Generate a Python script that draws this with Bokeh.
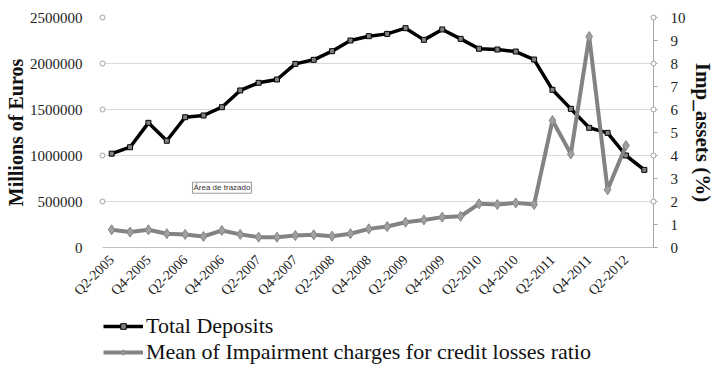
import math
from bokeh.plotting import figure
from bokeh.layouts import column
from bokeh.models import (Range1d, LinearAxis, FixedTicker, Legend, LegendItem,
                          Label, BasicTickFormatter)
from bokeh.embed import file_html
from bokeh.resources import INLINE

quarters = ["Q2-2005", "Q3-2005", "Q4-2005",
            "Q1-2006", "Q2-2006", "Q3-2006", "Q4-2006",
            "Q1-2007", "Q2-2007", "Q3-2007", "Q4-2007",
            "Q1-2008", "Q2-2008", "Q3-2008", "Q4-2008",
            "Q1-2009", "Q2-2009", "Q3-2009", "Q4-2009",
            "Q1-2010", "Q2-2010", "Q3-2010", "Q4-2010",
            "Q1-2011", "Q2-2011", "Q3-2011", "Q4-2011",
            "Q1-2012", "Q2-2012", "Q3-2012"]

total_deposits = [1020000, 1090000, 1355000, 1160000, 1416000, 1435000, 1525000,
                  1707000, 1790000, 1826000, 1996000, 2040000, 2134000, 2250000,
                  2297000, 2322000, 2384000, 2257000, 2370000, 2268000, 2160000,
                  2152000, 2130000, 2043000, 1714000, 1507000, 1301000, 1246000,
                  1000000, 844000]

impairment_ratio = [0.77, 0.67, 0.77, 0.60, 0.57, 0.48, 0.74, 0.57, 0.45, 0.45,
                    0.52, 0.55, 0.49, 0.60, 0.81, 0.91, 1.10, 1.20, 1.32, 1.36,
                    1.90, 1.87, 1.94, 1.87, 5.52, 4.07, 9.17, 2.51, 4.43]

left_ticks = [0, 500000, 1000000, 1500000, 2000000, 2500000]
right_ticks = [0, 1, 2, 3, 4, 5, 6, 7, 8, 9, 10]

series_names = ["Total Deposits",
                "Mean of Impairment charges for credit losses ratio"]

SERIF = "Liberation Serif"
BLACK = "black"
GREY = "#838383"

x_dep = list(range(len(total_deposits)))
x_imp = list(range(len(impairment_ratio)))

p = figure(width=720, height=310, output_backend="svg", toolbar_location=None,
           title=None,
           x_range=Range1d(-0.5, len(quarters) - 0.5),
           y_range=Range1d(0, 2500000),
           min_border_left=102, min_border_right=67,
           min_border_top=17, min_border_bottom=63)
p.extra_y_ranges = {"imp": Range1d(0, 10)}
p.outline_line_color = None
p.background_fill_color = "white"
p.border_fill_color = "white"

# grid
p.xgrid.visible = False
p.ygrid.ticker = FixedTicker(ticks=left_ticks)
p.ygrid.grid_line_color = "#d9d9d9"
p.ygrid.grid_line_width = 1

# left axis
ya = p.yaxis[0]
ya.ticker = FixedTicker(ticks=left_ticks)
ya.formatter = BasicTickFormatter(use_scientific=False)
ya.axis_line_color = None
ya.major_tick_line_color = None
ya.minor_tick_line_color = None
ya.major_label_standoff = 14
ya.major_label_text_font = SERIF
ya.major_label_text_font_size = "15px"
ya.major_label_text_color = "#222222"
ya.axis_label = "Millions of Euros"
ya.axis_label_text_font = SERIF
ya.axis_label_text_font_size = "20px"
ya.axis_label_text_font_style = "bold"
ya.axis_label_standoff = 0
ya.axis_label_text_color = "#111111"

# bottom axis
xa = p.xaxis[0]
xa.ticker = FixedTicker(ticks=x_dep[::2])
xa.major_label_overrides = {i: quarters[i] for i in x_dep[::2]}
xa.major_label_orientation = math.pi / 4
xa.major_label_text_font = SERIF
xa.major_label_text_font_size = "14px"
xa.major_label_text_color = "#222222"
xa.major_label_standoff = 4
xa.axis_line_color = "#bfbfbf"
xa.major_tick_line_color = None
xa.minor_tick_line_color = None

# right axis
ra = LinearAxis(y_range_name="imp")
ra.ticker = FixedTicker(ticks=right_ticks)
ra.axis_line_color = "#a6a6a6"
ra.major_tick_line_color = "#a6a6a6"
ra.major_tick_out = 4
ra.major_tick_in = 0
ra.minor_tick_line_color = None
ra.major_label_standoff = 13
ra.major_label_text_font = SERIF
ra.major_label_text_font_size = "15px"
ra.major_label_text_color = "#222222"
ra.axis_label = "Imp_assets (%)"
ra.axis_label_text_font = SERIF
ra.axis_label_text_font_size = "21px"
ra.axis_label_text_font_style = "bold"
ra.axis_label_standoff = 2
ra.axis_label_text_color = "#111111"
if "axis_label_orientation" in ra.properties():
    ra.axis_label_orientation = "vertical"
p.add_layout(ra, "right")

# axis tick circles
p.scatter([-0.5] * (len(left_ticks) - 1), left_ticks[1:], marker="circle", size=5,
          fill_color="white", line_color="#a0a0a0", line_width=1, level="overlay")
p.scatter([len(quarters) - 0.5] * 5, right_ticks[2::2], y_range_name="imp",
          marker="circle", size=5, fill_color="white", line_color="#a0a0a0",
          line_width=1, level="overlay")

# series
p.line(x_dep, total_deposits, line_color=BLACK, line_width=3.5)
p.scatter(x_dep, total_deposits, marker="square", size=5,
          fill_color="#808080", line_color=BLACK, line_width=1)
p.line(x_imp, impairment_ratio, y_range_name="imp", line_color=GREY, line_width=4)
p.scatter(x_imp, impairment_ratio, y_range_name="imp", marker="diamond",
          size=10, fill_color="#a0a0a0", line_color=GREY, line_width=1)

# floating "plot area" hint box
hint = Label(x=4.4, y=590000, text="Área de trazado", text_font="Liberation Sans",
             text_font_size="8px", text_align="left", text_baseline="bottom",
             text_color="#333333", background_fill_color="white",
             border_line_color="#999999", border_line_width=1, padding=1)
p.add_layout(hint)

# legend strip below the chart (same series, drawn outside its visible range)
lg = figure(width=720, height=60, output_backend="svg", toolbar_location=None,
            title=None, x_range=Range1d(-100, -99), y_range=Range1d(-100, -99),
            x_axis_location=None, y_axis_location=None, min_border=0)
lg.grid.visible = False
lg.outline_line_color = None
l1 = lg.line(x_dep, total_deposits, line_color=BLACK, line_width=3.5)
s1 = lg.scatter(x_dep, total_deposits, marker="square", size=5,
                fill_color="#808080", line_color=BLACK, line_width=1)
l2 = lg.line(x_imp, impairment_ratio, line_color=GREY, line_width=4)
s2 = lg.scatter(x_imp, impairment_ratio, marker="diamond", size=10,
                fill_color="#a0a0a0", line_color=GREY, line_width=1)

legend = Legend(items=[
    LegendItem(label=series_names[0], renderers=[l1, s1]),
    LegendItem(label=series_names[1], renderers=[l2, s2]),
], location=(1, 5))
legend.border_line_color = None
legend.background_fill_alpha = 0
legend.glyph_width = 40
legend.glyph_height = 14
legend.label_height = 25
legend.spacing = 0
legend.padding = 0
legend.margin = 0
legend.label_standoff = 3
legend.label_text_font = SERIF
legend.label_text_font_size = "22px"
legend.label_text_color = "#111111"
lg.add_layout(legend, "center")

open("out.html", "w").write(file_html(column(p, lg), INLINE))
